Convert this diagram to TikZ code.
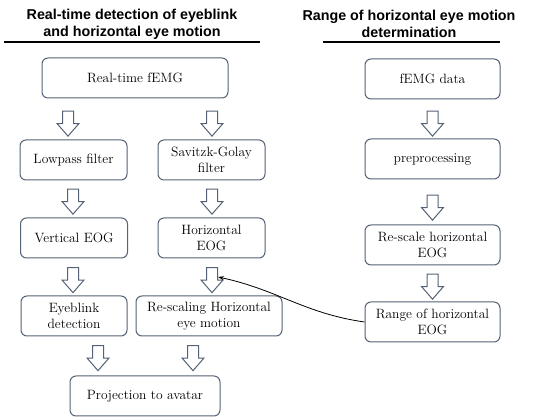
\documentclass[tikz,border=0pt]{standalone}
\usepackage{fontspec}
\newfontfamily\titlefont{Liberation Sans}
\usepackage{tikz}
\usetikzlibrary{arrows.meta, positioning, shapes.arrows}
\definecolor{boxline}{RGB}{84,98,118}
\tikzset{
  box/.style={draw=boxline, fill=white, rounded corners=6pt,
              minimum width=#1, minimum height=40pt, align=center,
              font=\fontsize{13.5}{15.5}\selectfont, line width=1pt},
  blkarr/.style={single arrow, draw=boxline, fill=white, rotate=-90,
                 inner xsep=0pt, inner ysep=5pt, line width=1pt,
                 single arrow head extend=5.5pt, single arrow tip angle=82,
                 minimum height=25pt},
  ttl/.style={align=center, font=\titlefont\bfseries\fontsize{14.3}{17}\selectfont},
  arr/.style={-{Stealth[length=6pt,width=4pt]}, line width=0.8pt},
}
\begin{document}
\begin{tikzpicture}[x=1pt, y=1pt]
    \useasboundingbox (0,0) rectangle (550,420);

    \node[ttl] (ttlL) at (132, 396) {Real-time detection of eyeblink\\and horizontal eye motion};
    \node[ttl] (ttlR) at (409, 396) {Range of horizontal eye motion\\determination};
    \draw[line width=1.3pt] (4,378) -- (260,378);
    \draw[line width=1.3pt] (323,378) -- (500,378);

    \node[box=186pt] (femg)  at (135,   342) {Real-time fEMG};
    \node[box=107pt] (lp)    at (73.5,  260) {Lowpass filter};
    \node[box=107pt] (sg)    at (211.5, 260) {Savitzk-Golay\\filter};
    \node[box=107pt] (veog)  at (74,    182) {Vertical EOG};
    \node[box=107pt] (heog)  at (211.5, 182) {Horizontal\\EOG};
    \node[box=106pt] (blink) at (74,    104) {Eyeblink\\detection};
    \node[box=146pt] (resc)  at (209,   104) {Re-scaling Horizontal\\eye motion};
    \node[box=150pt] (proj)  at (145,    24) {Projection to avatar};

    \node[box=135pt] (data)  at (432.5, 341) {fEMG data};
    \node[box=135pt] (prep)  at (432.5, 261) {preprocessing};
    \node[box=135pt] (rsc)   at (432.5, 175) {Re-scale horizontal\\EOG};
    \node[box=135pt] (range) at (432.5,  98) {Range of horizontal\\EOG};

    \node[blkarr] (a1)  at (68,    299.5) {};
    \node[blkarr] (a2)  at (212,   299.5) {};
    \node[blkarr] (a3)  at (73,    221.5) {};
    \node[blkarr] (a4)  at (212,   221.5) {};
    \node[blkarr] (a5)  at (73,    143) {};
    \node[blkarr] (a6)  at (212,   143) {};
    \node[blkarr] (a7)  at (98,     65) {};
    \node[blkarr] (a8)  at (193,    65) {};
    \node[blkarr] (a9)  at (432.5, 299.5) {};
    \node[blkarr] (a10) at (432.5, 215.5) {};
    \node[blkarr] (a11) at (432.5, 136.5) {};

    \draw[arr] (range.west) to[out=172, in=-12] (a6.north);
  \end{tikzpicture}
\end{document}
